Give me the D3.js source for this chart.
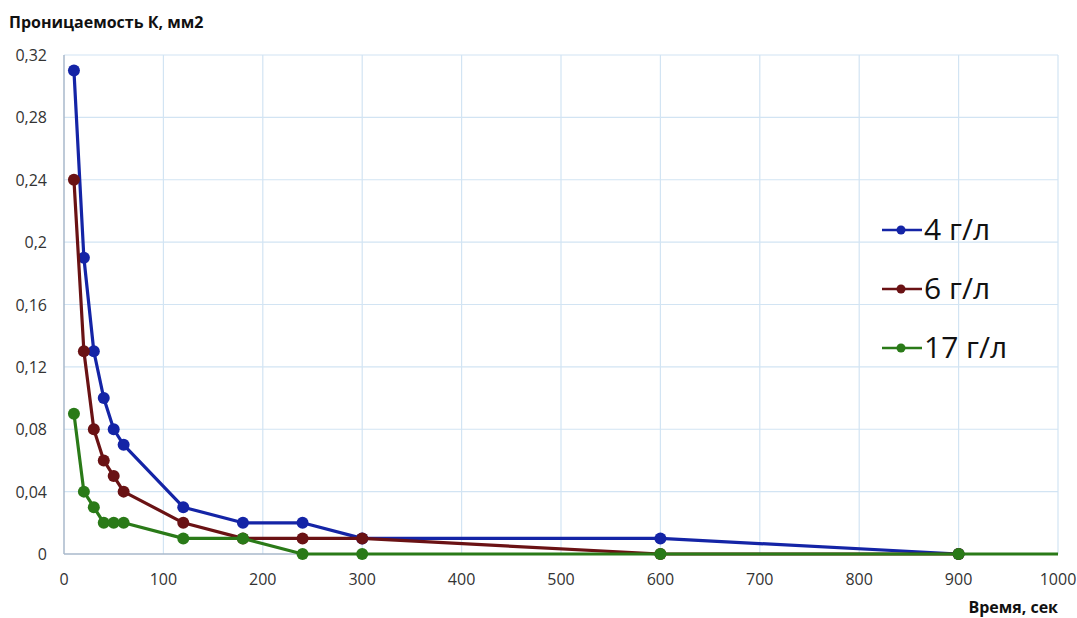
<!DOCTYPE html>
<html><head><meta charset="utf-8">
<script src="https://cdn.jsdelivr.net/npm/d3@7"></script>
<style>body{margin:0;background:#fff;font-family:"Open Sans",sans-serif}</style>
</head><body><svg id="c" width="1077" height="618"></svg>
<script>
const times = [10,20,30,40,50,60,120,180,240,300,600,900];
const s4 = [0.31,0.19,0.13,0.10,0.08,0.07,0.03,0.02,0.02,0.01,0.01,0];
const s6 = [0.24,0.13,0.08,0.06,0.05,0.04,0.02,0.01,0.01,0.01,0,0];
const s17 = [0.09,0.04,0.03,0.02,0.02,0.02,0.01,0.01,0,0,0,0];
const s17tailX = 1000, s17tailY = 0;
const seriesNames = ["4 г/л","6 г/л","17 г/л"];
const colors = ["#1424a6","#6a1214","#2a7a18"];
const xTicks = [0,100,200,300,400,500,600,700,800,900,1000];
const yTicks = [0,0.04,0.08,0.12,0.16,0.2,0.24,0.28,0.32];
const yLabels = ["0","0,04","0,08","0,12","0,16","0,2","0,24","0,28","0,32"];

const svg = d3.select("#c");
const L=64,R=1058,T=55,B=554;
const x = d3.scaleLinear().domain([0,1000]).range([L,R]);
const y = d3.scaleLinear().domain([0,0.32]).range([B,T]);

svg.append("g").selectAll("line").data(xTicks.slice(1)).join("line")
 .attr("x1",d=>x(d)).attr("x2",d=>x(d)).attr("y1",T).attr("y2",B)
 .attr("stroke","#d2e4f3").attr("stroke-width",1.2);
svg.append("g").selectAll("line").data(yTicks.slice(1)).join("line")
 .attr("x1",L).attr("x2",R).attr("y1",d=>y(d)).attr("y2",d=>y(d))
 .attr("stroke","#d2e4f3").attr("stroke-width",1.2);
svg.append("line").attr("x1",L).attr("x2",L).attr("y1",T).attr("y2",B).attr("stroke","#a9b9cb").attr("stroke-width",1.5);
svg.append("line").attr("x1",L).attr("x2",R).attr("y1",B).attr("y2",B).attr("stroke","#a9b9cb").attr("stroke-width",1.5);

svg.append("g").selectAll("text").data(xTicks).join("text")
 .attr("x",d=>x(d)).attr("y",585).attr("text-anchor","middle")
 .attr("font-size",16).attr("fill","#333").text(d=>d);
svg.append("g").selectAll("text").data(yTicks).join("text")
 .attr("x",47).attr("y",d=>y(d)+6).attr("text-anchor","end")
 .attr("font-size",16).attr("fill","#333").text((d,i)=>yLabels[i]);

svg.append("text").attr("x",9).attr("y",28).attr("font-size",16).attr("font-weight","bold")
 .attr("fill","#111").text("Проницаемость К, мм2");
svg.append("text").attr("x",1058).attr("y",613).attr("text-anchor","end").attr("font-size",16).attr("font-weight","bold")
 .attr("fill","#111").text("Время, сек");

const line = d3.line().x(d=>x(d[0])).y(d=>y(d[1]));
const all = [s4,s6,s17];
all.forEach((s,i)=>{
  const pts = times.map((t,j)=>[t,s[j]]);
  const linePts = i===2 ? pts.concat([[s17tailX,s17tailY]]) : pts;
  svg.append("path").datum(linePts).attr("d",line).attr("fill","none")
   .attr("stroke",colors[i]).attr("stroke-width",3.2).attr("stroke-linejoin","round");
  svg.append("g").selectAll("circle").data(pts).join("circle")
   .attr("cx",d=>x(d[0])).attr("cy",d=>y(d[1])).attr("r",6).attr("fill",colors[i]);
});

const ly=[230,289,348];
seriesNames.forEach((n,i)=>{
  svg.append("line").attr("x1",882).attr("x2",922).attr("y1",ly[i]).attr("y2",ly[i]).attr("stroke",colors[i]).attr("stroke-width",2.5);
  svg.append("circle").attr("cx",901).attr("cy",ly[i]).attr("r",4.5).attr("fill",colors[i]);
  svg.append("text").attr("x",924).attr("y",ly[i]+10).attr("font-size",30).attr("fill","#111").text(n);
});
</script></body></html>
